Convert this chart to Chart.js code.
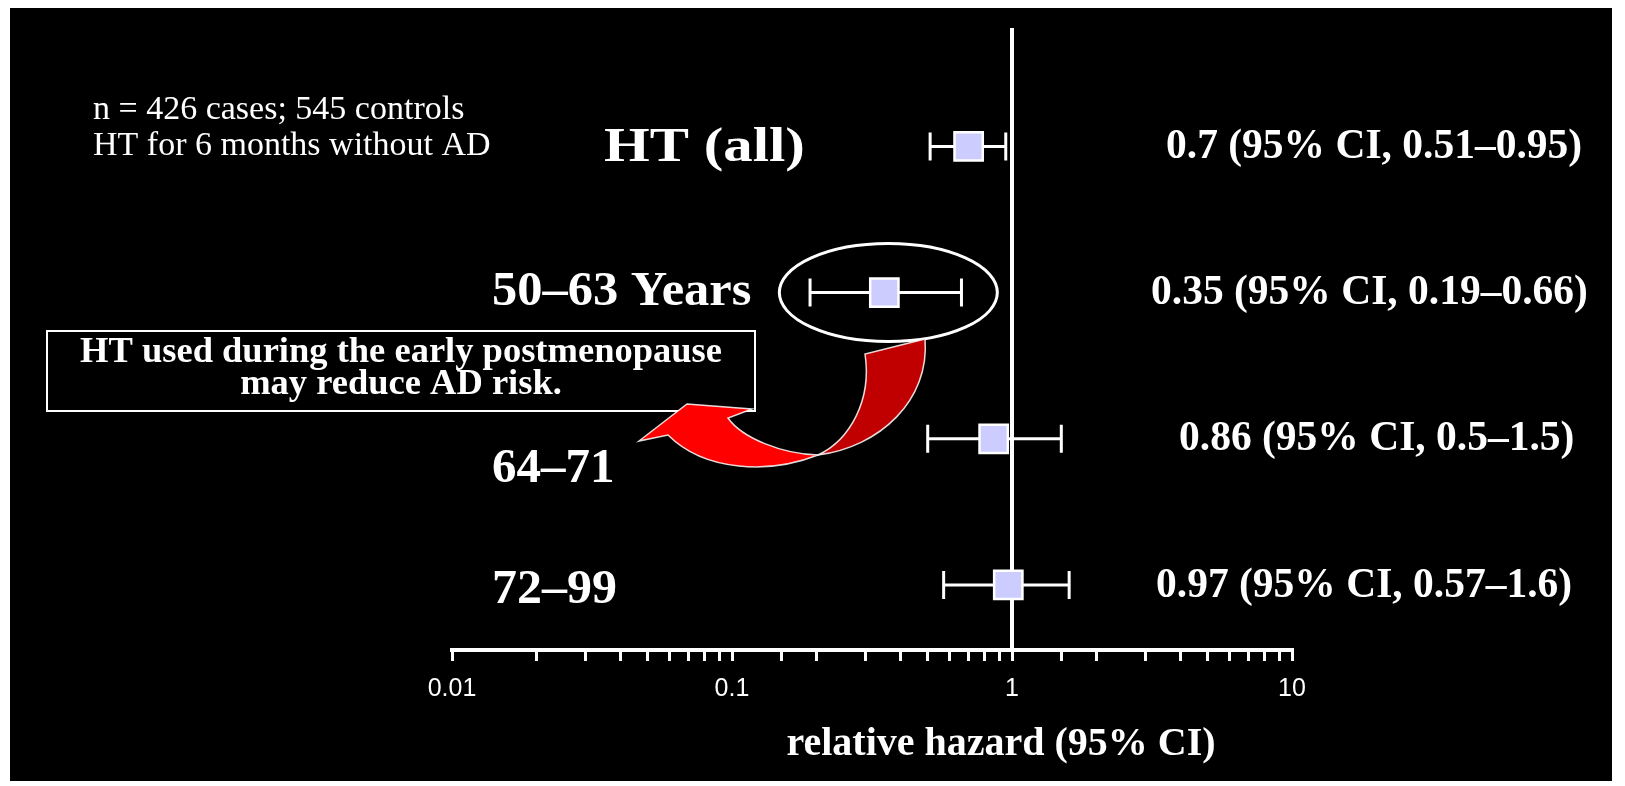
<!DOCTYPE html>
<html>
<head>
<meta charset="utf-8">
<script src="https://cdn.jsdelivr.net/npm/chart.js@4.4.1/dist/chart.umd.min.js"></script>
<style>
  html, body { margin: 0; padding: 0; background: #fff; }
  #wrap { width: 1625px; height: 786px; }
</style>
</head>
<body>
<div id="wrap"><canvas id="forest" width="1625" height="786"></canvas></div>
<script>
const groups = [`HT (all)`, `50–63 Years`, `64–71`, `72–99`];
const hazard = [0.7, 0.35, 0.86, 0.97];
const ciLow = [0.51, 0.19, 0.5, 0.57];
const ciHigh = [0.95, 0.66, 1.5, 1.6];
const ciText = [
  `0.7 (95% CI, 0.51–0.95)`,
  `0.35 (95% CI, 0.19–0.66)`,
  `0.86 (95% CI, 0.5–1.5)`,
  `0.97 (95% CI, 0.57–1.6)`
];
const tickValues = [0.01, 0.1, 1, 10];
const tickLabels = [`0.01`, `0.1`, `1`, `10`];
const noteLines = [`n = 426 cases; 545 controls`, `HT for 6 months without AD`];
const calloutLines = [`HT used during the early postmenopause`, `may reduce AD risk.`];
const axisTitle = `relative hazard (95% CI)`;

const SERIF = `"Liberation Serif", "Times New Roman", serif`;
const rowY = i => groups.length - i;

// white frame round the black slide
const backdrop = {
  id: `backdrop`,
  beforeDraw(chart) {
    const ctx = chart.ctx;
    ctx.save();
    ctx.fillStyle = `#fff`;
    ctx.fillRect(0, 0, chart.width, chart.height);
    ctx.fillStyle = `#000`;
    ctx.fillRect(10, 8, 1602, 773);
    ctx.restore();
  }
};

// line of no effect + CI whiskers
const whiskers = {
  id: `whiskers`,
  beforeDatasetsDraw(chart) {
    const {ctx, chartArea, scales: {x, y}} = chart;
    ctx.save();
    ctx.strokeStyle = `#fff`;
    ctx.lineWidth = 4;
    const x1 = x.getPixelForValue(1);
    ctx.beginPath();
    ctx.moveTo(x1, chartArea.top);
    ctx.lineTo(x1, chartArea.bottom);
    ctx.stroke();

    ctx.lineWidth = 3;
    groups.forEach((g, i) => {
      const py = y.getPixelForValue(rowY(i));
      const lo = x.getPixelForValue(ciLow[i]);
      const hi = x.getPixelForValue(ciHigh[i]);
      ctx.beginPath();
      ctx.moveTo(lo, py);
      ctx.lineTo(hi, py);
      ctx.moveTo(lo, py - 14);
      ctx.lineTo(lo, py + 14);
      ctx.moveTo(hi, py - 14);
      ctx.lineTo(hi, py + 14);
      ctx.stroke();
    });
    ctx.restore();
  }
};

// texts, ellipse, callout box and the red arrow
const slideText = {
  id: `slideText`,
  afterDraw(chart) {
    const {ctx, scales: {x, y}} = chart;
    ctx.save();
    ctx.fillStyle = `#fff`;
    ctx.textBaseline = `middle`;

    ctx.font = `34px ${SERIF}`;
    ctx.textAlign = `left`;
    ctx.fillText(noteLines[0], 93, 110);
    ctx.fillText(noteLines[1], 93, 146);

    // the slide stretched "HT (all)" a bit wider than the others
    const labelPos = [{x: 604, dy: 2, sx: 1.2}, {x: 492, dy: 0, sx: 1.03}, {x: 492, dy: 31, sx: 1}, {x: 492, dy: 5, sx: 1.02}];
    ctx.font = `bold 49px ${SERIF}`;
    groups.forEach((g, i) => {
      ctx.save();
      ctx.translate(labelPos[i].x, y.getPixelForValue(rowY(i)) + labelPos[i].dy);
      ctx.scale(labelPos[i].sx, 1);
      ctx.fillText(g, 0, 0);
      ctx.restore();
    });

    const ciPos = [1166, 1151, 1179, 1156];
    ctx.font = `bold 41.5px ${SERIF}`;
    ciText.forEach((t, i) => {
      ctx.fillText(t, ciPos[i], y.getPixelForValue(rowY(i)) + 1);
    });

    ctx.textAlign = `center`;
    ctx.font = `bold 40px ${SERIF}`;
    ctx.fillText(axisTitle, 1001, 745);

    // ellipse round the 50-63 row
    ctx.strokeStyle = `#fff`;
    ctx.lineWidth = 3;
    ctx.beginPath();
    ctx.ellipse(x.getPixelForValue(0.35) + 4, y.getPixelForValue(rowY(1)), 109, 49, 0, 0, Math.PI * 2);
    ctx.stroke();

    // callout box
    ctx.lineWidth = 2;
    ctx.fillStyle = `#000`;
    ctx.fillRect(47, 331, 708, 80);
    ctx.strokeRect(47, 331, 708, 80);
    ctx.fillStyle = `#fff`;
    ctx.font = `bold 36.5px ${SERIF}`;
    ctx.fillText(calloutLines[0], 401, 353);
    ctx.fillText(calloutLines[1], 401, 385);

    // curved arrow, dark back part
    ctx.lineWidth = 1.5;
    ctx.strokeStyle = `rgba(255,255,255,0.85)`;
    ctx.fillStyle = `#c00000`;
    ctx.beginPath();
    ctx.moveTo(818, 455);
    ctx.bezierCurveTo(850, 440, 872, 400, 865, 354);
    ctx.lineTo(925, 339);
    ctx.bezierCurveTo(930, 400, 880, 447, 818, 455);
    ctx.closePath();
    ctx.fill();
    ctx.stroke();

    // bright front part with the head
    ctx.fillStyle = `#ff0000`;
    ctx.beginPath();
    ctx.moveTo(818, 455);
    ctx.bezierCurveTo(770, 474, 705, 472, 668, 435);
    ctx.lineTo(639, 441);
    ctx.lineTo(687, 404);
    ctx.lineTo(752, 409);
    ctx.lineTo(728, 418);
    ctx.bezierCurveTo(742, 438, 782, 454, 818, 455);
    ctx.closePath();
    ctx.fill();
    ctx.stroke();
    ctx.restore();
  }
};

new Chart(document.getElementById(`forest`), {
  type: `scatter`,
  data: {
    datasets: [{
      label: `relative hazard`,
      data: groups.map((g, i) => ({x: hazard[i], y: rowY(i)})),
      pointStyle: `rect`,
      pointRadius: 20,
      pointHoverRadius: 20,
      backgroundColor: `#ccccff`,
      borderColor: `#fff`,
      borderWidth: 2.5
    }]
  },
  options: {
    responsive: false,
    animation: false,
    devicePixelRatio: 1,
    layout: {
      padding: {left: 452, right: 333, top: 28, bottom: 69}
    },
    scales: {
      x: {
        type: `logarithmic`,
        min: 0.01,
        max: 10,
        border: {display: true, color: `#fff`, width: 4},
        grid: {drawOnChartArea: false, color: `#fff`, lineWidth: 3, tickLength: 11},
        ticks: {
          color: `#fff`,
          font: {family: `"Liberation Sans", Arial, sans-serif`, size: 25},
          padding: 13,
          autoSkip: false,
          maxRotation: 0,
          callback(v) {
            const k = tickValues.findIndex(t => Math.abs(t - v) / t < 1e-6);
            return k >= 0 ? tickLabels[k] : ``;
          }
        }
      },
      y: {
        type: `linear`,
        display: false,
        min: 0.555,
        max: 4.81
      }
    },
    plugins: {
      legend: {display: false},
      tooltip: {enabled: false}
    }
  },
  plugins: [backdrop, whiskers, slideText]
});
</script>
</body>
</html>
